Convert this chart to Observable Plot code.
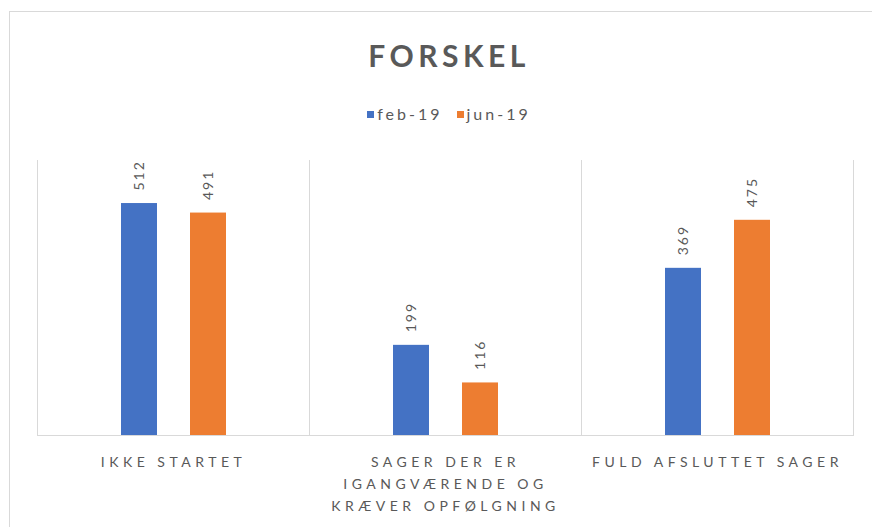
<!DOCTYPE html>
<html><head><meta charset="utf-8">
<script src="https://cdn.jsdelivr.net/npm/d3@7"></script>
<script src="https://cdn.jsdelivr.net/npm/@observablehq/plot@0.6"></script>
<style>
html,body{margin:0;padding:0;background:#fff;overflow:hidden;width:872px;height:527px;position:relative;}
#frame{position:absolute;left:9px;top:11px;width:900px;height:600px;border-top:1px solid #d9d9d9;border-left:1px solid #d9d9d9;}
#title{position:absolute;left:0;top:40px;width:898px;text-align:center;font-family:Lato,sans-serif;font-weight:bold;font-size:30px;line-height:30px;letter-spacing:4.5px;color:#595959;}
#legend{position:absolute;left:0;top:106px;width:898px;display:flex;justify-content:center;font-family:Lato,sans-serif;font-size:16px;line-height:16px;letter-spacing:3px;color:#595959;}
#legend .item{display:flex;align-items:center;margin:0 7px;}
#legend .sw{width:7px;height:7px;margin-right:3px;}
#chart{position:absolute;left:0;top:140px;}
#chart svg g[aria-label="fx-axis tick label"] text{letter-spacing:4.5px;}
#chart svg g[aria-label="text"] text{letter-spacing:2px;}
</style></head>
<body>
<div id="frame"></div>
<div id="title">FORSKEL</div>
<div id="legend"></div>
<div id="chart"></div>
<script>
const categories = ["IKKE STARTET", "SAGER DER ER IGANGVÆRENDE OG KRÆVER OPFØLGNING", "FULD AFSLUTTET SAGER"];
const categoryLabels = ["IKKE STARTET", "SAGER DER ER\nIGANGVÆRENDE OG\nKRÆVER OPFØLGNING", "FULD AFSLUTTET SAGER"];
const series = ["feb-19", "jun-19"];
const feb19 = [512, 199, 369];
const jun19 = [491, 116, 475];
const colors = ["#4472C4", "#ED7D31"];

const values = [feb19, jun19];
const data = categories.flatMap((c, i) => series.map((s, j) => ({category: c, series: s, value: values[j][i]})));

const legend = document.getElementById("legend");
series.forEach((s, j) => {
  const it = document.createElement("div");
  it.className = "item";
  it.innerHTML = `<span class="sw" style="background:${colors[j]}"></span><span>${s}</span>`;
  legend.appendChild(it);
});

const chart = Plot.plot({
  width: 872,
  height: 387,
  marginTop: 20,
  marginBottom: 92,
  marginLeft: 36,
  marginRight: 18,
  fx: {domain: categories, padding: 0, label: null},
  x: {domain: series, paddingInner: 0.48, paddingOuter: 1.19, axis: null},
  y: {domain: [0, 607], axis: null},
  color: {domain: series, range: colors},
  style: {fontFamily: "Lato, sans-serif", color: "#595959", background: "transparent"},
  marks: [
    Plot.frame({anchor: "left", stroke: "#d9d9d9"}),
    Plot.frame({anchor: "right", stroke: "#d9d9d9"}),
    Plot.ruleY([0], {stroke: "#d9d9d9"}),
    Plot.barY(data, {fx: "category", x: "series", y: "value", fill: "series"}),
    Plot.text(data, {fx: "category", x: "series", y: "value", text: d => String(d.value), rotate: -90, textAnchor: "start", dy: -13, fill: "#595959", fontSize: 14}),
    Plot.axisFx({anchor: "bottom", tickSize: 0, tickPadding: 16, fontSize: 14, lineHeight: 1.571, label: null, tickFormat: c => categoryLabels[categories.indexOf(c)]})
  ]
});
document.getElementById("chart").appendChild(chart);
</script>
</body></html>
